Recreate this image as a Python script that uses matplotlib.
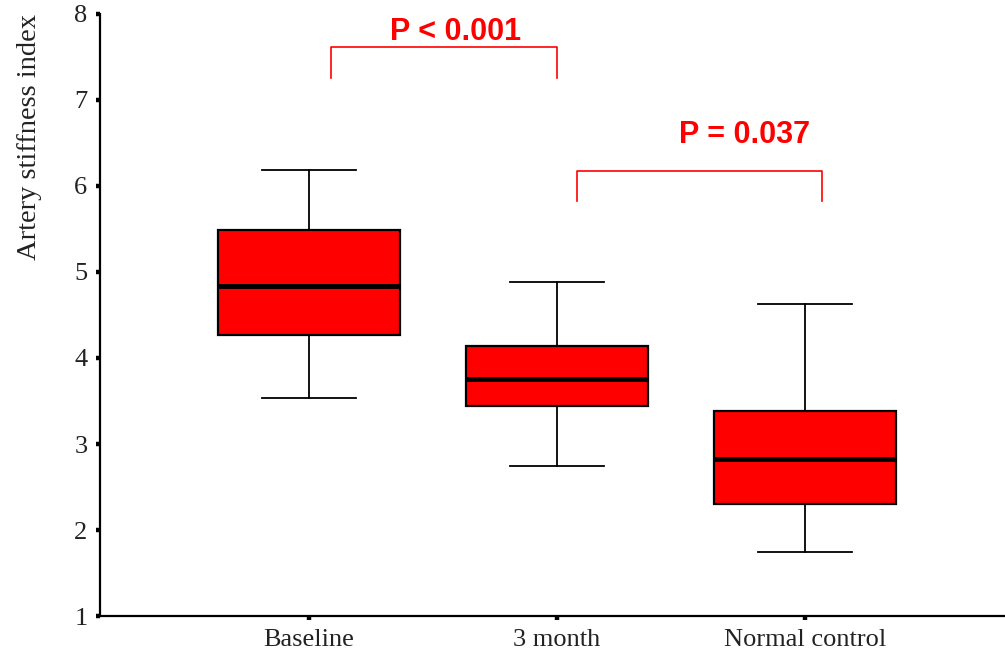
import matplotlib
matplotlib.use("Agg")
import matplotlib.pyplot as plt

# group labels and box statistics
groups = ["Baseline", "3 month", "Normal control"]
whis_lo = [3.53, 2.75, 1.75]
q1 = [4.27, 3.44, 2.30]
medians = [4.84, 3.76, 2.83]
q3 = [5.49, 4.14, 3.38]
whis_hi = [6.19, 4.88, 4.63]

# significance brackets: (left group, right group, label)
brackets = [(1.09, 2.0, "P < 0.001"), (2.08, 3.07, "P = 0.037")]
bracket_top = [7.62, 6.18]
bracket_foot = [7.25, 5.83]

serif = "Liberation Serif"

fig = plt.figure(figsize=(10.05, 6.57), dpi=100)
ax = fig.add_axes([0.0995, 0.0624, 0.9005, 0.9163])

stats = []
for i, g in enumerate(groups):
    stats.append(dict(label=g, whislo=whis_lo[i], q1=q1[i], med=medians[i],
                      q3=q3[i], whishi=whis_hi[i], fliers=[]))

ax.bxp(stats, positions=[1, 2, 3], widths=0.735, capwidths=0.38,
       patch_artist=True, showfliers=False,
       boxprops=dict(facecolor="#ff0000", edgecolor="black", linewidth=1.6),
       medianprops=dict(color="black", linewidth=3.5),
       whiskerprops=dict(color="black", linewidth=1.3),
       capprops=dict(color="black", linewidth=1.3))

ax.set_xlim(0.157, 3.807)
ax.set_ylim(1, 8)
ax.set_yticks(range(1, 9))
ax.set_xticks([1, 2, 3])
ax.set_xticklabels(groups)

for s in ["top", "right"]:
    ax.spines[s].set_visible(False)
for s in ["left", "bottom"]:
    ax.spines[s].set_linewidth(1.6)

ax.tick_params(axis="both", direction="out", length=3, width=3.2,
               labelsize=19, colors="black")
ax.tick_params(axis="x", pad=6)
ax.tick_params(axis="y", pad=6)
for lab in ax.get_xticklabels() + ax.get_yticklabels():
    lab.set_fontfamily(serif)
    lab.set_color("#222222")

ax.set_ylabel("Artery stiffness index", fontsize=20.5, fontfamily=serif,
              loc="top", color="#222222")
ax.yaxis.set_label_coords(-0.064, 1.0)

for (x0, x1, txt), top, foot in zip(brackets, bracket_top, bracket_foot):
    ax.plot([x0, x0, x1, x1], [foot, top, top, foot], color="#ff0000",
            linewidth=1.2, clip_on=False)

ax.text(1.593, 7.79, brackets[0][2], color="#ff0000", fontsize=22,
        fontweight="bold", fontfamily="Liberation Sans",
        ha="center", va="center")
ax.text(2.758, 6.59, brackets[1][2], color="#ff0000", fontsize=22,
        fontweight="bold", fontfamily="Liberation Sans",
        ha="center", va="center")

fig.savefig("out.png", dpi=100)
